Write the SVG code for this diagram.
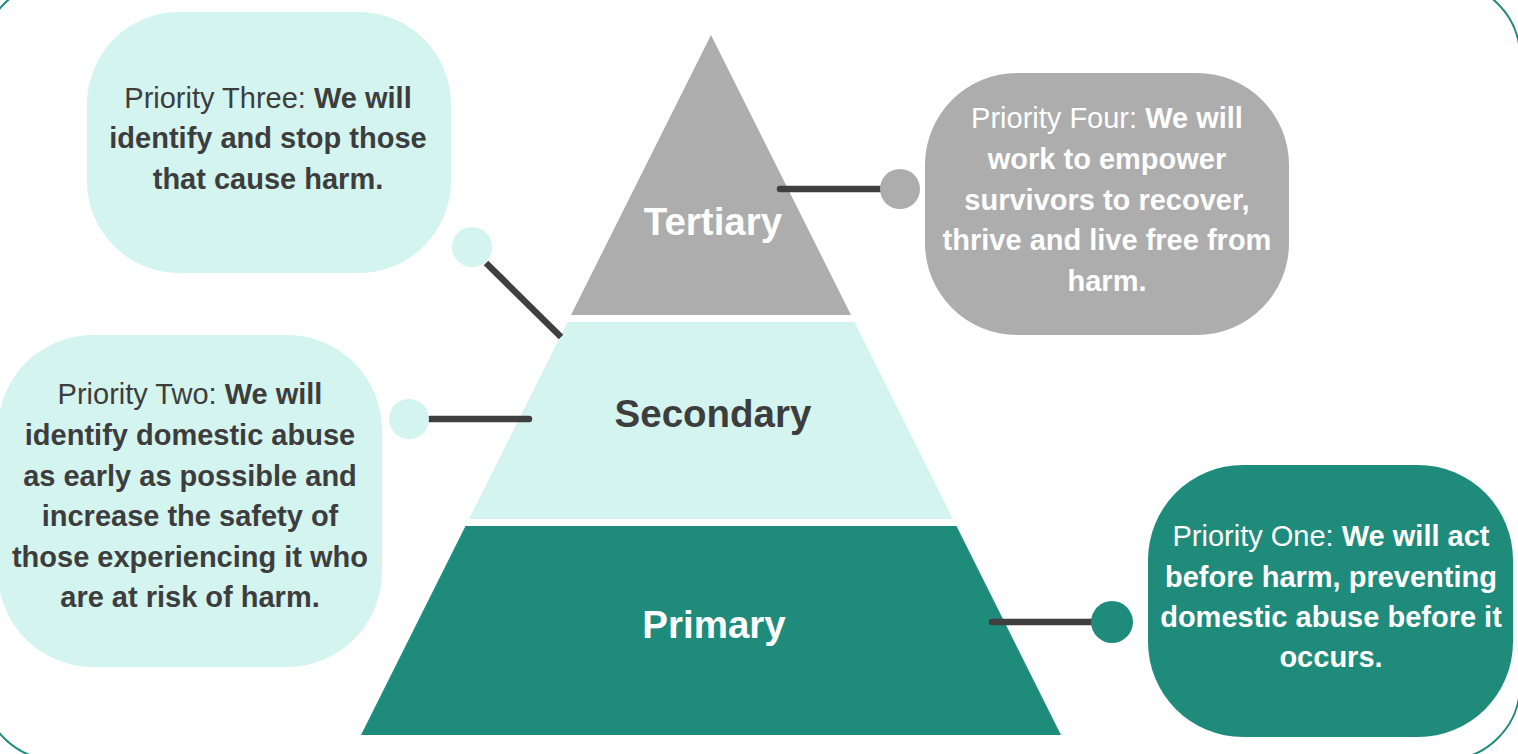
<svg xmlns="http://www.w3.org/2000/svg" width="1518" height="754" viewBox="0 0 1518 754">
  <style>
    .t { font-family: "Liberation Sans", Arial, sans-serif; font-size: 29px; text-anchor: middle; }
    .b { font-weight: bold; }
    .dark { fill: #3d3d3d; }
    .white { fill: #ffffff; }
    .lvl { font-family: "Liberation Sans", Arial, sans-serif; font-size: 38.5px; font-weight: bold; text-anchor: middle; }
    .mint { fill: #d4f4ef; }
    .gray { fill: #adadad; }
    .teal { fill: #1f8b7b; }
    .conn { stroke: #3f3f3f; stroke-width: 6.5; fill: none; }
  </style>
  <rect id="frame" x="-18" y="-18" width="1538" height="778" rx="75" ry="75" fill="#ffffff" stroke="#1f8b7b" stroke-width="2"/>

  <g id="tertiary">
    <polygon class="gray" points="711,35 851,315 571,315"/>
    <text class="lvl white" x="713" y="235">Tertiary</text>
  </g>
  <g id="secondary">
    <polygon class="mint" points="567.5,322 854.5,322 953,519 469,519"/>
    <text class="lvl dark" x="713" y="427">Secondary</text>
  </g>
  <g id="primary">
    <polygon class="teal" points="465.5,526 956.5,526 1061,735 361,735"/>
    <text class="lvl white" x="714" y="638">Primary</text>
  </g>

  <g id="connectors">
    <line class="conn" x1="486" y1="263" x2="561" y2="337" stroke-linecap="butt"/>
    <line class="conn" x1="780" y1="189" x2="884" y2="189" stroke-linecap="round"/>
    <line class="conn" x1="430" y1="419" x2="529" y2="419" stroke-linecap="round"/>
    <line class="conn" x1="992" y1="622" x2="1094" y2="622" stroke-linecap="round"/>
    <circle class="mint" cx="472" cy="247" r="20"/>
    <circle class="gray" cx="900" cy="189" r="20"/>
    <circle class="mint" cx="409" cy="419" r="20"/>
    <circle class="teal" cx="1112" cy="622" r="21"/>
  </g>

  <g id="priority-three">
    <rect class="mint" x="87" y="12" width="364" height="261" rx="92" ry="92"/>
    <text class="t dark" x="268" y="108">Priority Three: <tspan class="b">We will</tspan></text>
    <text class="t dark b" x="268" y="148">identify and stop those</text>
    <text class="t dark b" x="268" y="189">that cause harm.</text>
  </g>

  <g id="priority-four">
    <rect class="gray" x="925" y="73" width="364" height="262" rx="92" ry="92"/>
    <text class="t white" x="1107" y="128">Priority Four: <tspan class="b">We will</tspan></text>
    <text class="t white b" x="1107" y="169">work to empower</text>
    <text class="t white b" x="1107" y="210">survivors to recover,</text>
    <text class="t white b" x="1107" y="250">thrive and live free from</text>
    <text class="t white b" x="1107" y="291">harm.</text>
  </g>

  <g id="priority-two">
    <rect class="mint" x="-2" y="335" width="384" height="332" rx="95" ry="95"/>
    <text class="t dark" x="190" y="404">Priority Two: <tspan class="b">We will</tspan></text>
    <text class="t dark b" x="190" y="445">identify domestic abuse</text>
    <text class="t dark b" x="190" y="486">as early as possible and</text>
    <text class="t dark b" x="190" y="526">increase the safety of</text>
    <text class="t dark b" x="190" y="567">those experiencing it who</text>
    <text class="t dark b" x="190" y="607">are at risk of harm.</text>
  </g>

  <g id="priority-one">
    <rect class="teal" x="1148" y="465" width="365" height="272" rx="95" ry="95"/>
    <text class="t white" x="1331" y="546">Priority One: <tspan class="b">We will act</tspan></text>
    <text class="t white b" x="1331" y="587">before harm, preventing</text>
    <text class="t white b" x="1331" y="627">domestic abuse before it</text>
    <text class="t white b" x="1331" y="667">occurs.</text>
  </g>
</svg>
